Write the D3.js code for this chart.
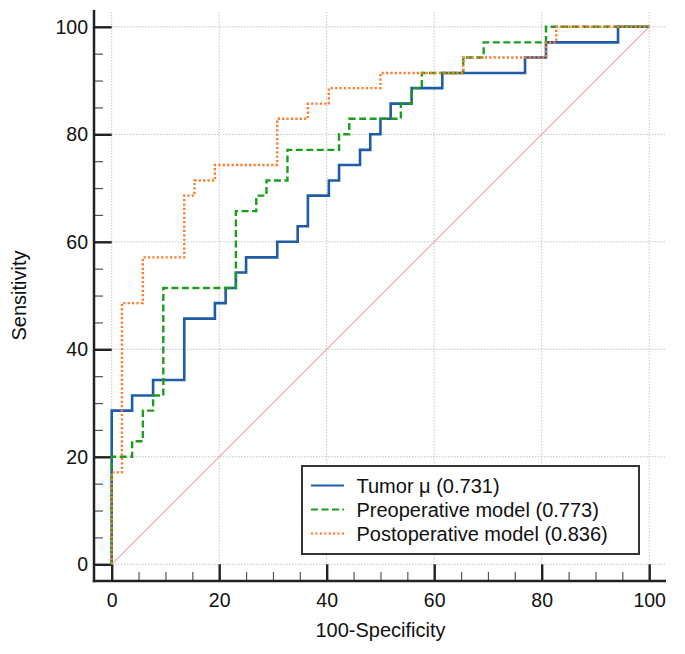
<!DOCTYPE html>
<html>
<head>
<meta charset="utf-8">
<script src="https://cdn.jsdelivr.net/npm/d3@7"></script>
<style>
  html, body { margin: 0; padding: 0; background: #fff; }
  svg { display: block; font-family: Arial, "Liberation Sans", sans-serif; }
</style>
</head>
<body>
<svg id="chart" width="685" height="654"></svg>
<script>
// ---- data (100-Specificity %, Sensitivity %) ROC step vertices ----
const tumorX = [0, 0, 3.8, 7.7, 13.5, 19.2, 21.2, 23.1, 25.0, 30.8, 34.6, 36.5, 40.4, 42.3, 46.2, 48.1, 50.0, 51.9, 55.8, 61.5, 76.9, 80.8, 94.2, 100];
const tumorY = [0, 28.6, 31.4, 34.3, 45.7, 48.6, 51.4, 54.3, 57.1, 60.0, 62.9, 68.6, 71.4, 74.3, 77.1, 80.0, 82.9, 85.7, 88.6, 91.4, 94.3, 97.1, 100, 100];

const preopX = [0, 0, 3.8, 5.8, 7.7, 9.6, 23.1, 26.9, 28.8, 32.7, 42.3, 44.2, 53.8, 55.8, 57.7, 65.4, 69.2, 80.8, 100];
const preopY = [0, 20.0, 22.9, 28.6, 31.4, 51.4, 65.7, 68.6, 71.4, 77.1, 80.0, 82.9, 85.7, 88.6, 91.4, 94.3, 97.1, 100, 100];

const postopX = [0, 0, 1.9, 5.8, 13.5, 15.4, 19.2, 30.8, 36.5, 40.4, 50.0, 65.4, 80.8, 82.7, 100];
const postopY = [0, 17.1, 48.6, 57.1, 68.6, 71.4, 74.3, 82.9, 85.7, 88.6, 91.4, 94.3, 97.1, 100, 100];

const seriesNames = ["Tumor \u03bc (0.731)", "Preoperative model (0.773)", "Postoperative model (0.836)"];
const majorTicks = [0, 20, 40, 60, 80, 100];
const minorTicks = [5, 10, 15, 25, 30, 35, 45, 50, 55, 65, 70, 75, 85, 90, 95];
const xTitle = "100-Specificity";
const yTitle = "Sensitivity";

// ---- layout ----
const svg = d3.select("#chart");
const x = d3.scaleLinear().domain([0, 100]).range([111.7, 649.2]);
const y = d3.scaleLinear().domain([0, 100]).range([564.3, 26.8]);
const axisX = 94, axisY = 581, frameTop = 10, frameRight = 666;

const styles = [
  { color: "#1f5ca8", dash: null, width: 2.6 },
  { color: "#1c9e1c", dash: "7,3.5", width: 2.4 },
  { color: "#ff7a2a", dash: "2.2,2.2", width: 2.4 }
];

// grid
const grid = svg.append("g").attr("stroke", "#c4c4c4").attr("stroke-width", 1).attr("stroke-dasharray", "1.5,1.5");
grid.selectAll(".gv").data(majorTicks).join("line")
  .attr("x1", d => x(d)).attr("x2", d => x(d)).attr("y1", frameTop + 2).attr("y2", axisY);
grid.selectAll(".gh").data(majorTicks).join("line")
  .attr("x1", axisX).attr("x2", frameRight - 1).attr("y1", d => y(d)).attr("y2", d => y(d));

// axes with inward ticks
const fontSize = 19.5;
const yAxis = svg.append("g").attr("transform", `translate(${axisX},0)`)
  .call(d3.axisLeft(y).tickValues(majorTicks).tickSize(-(x(0) - axisX)).tickPadding(6).tickFormat(d3.format("d")));
const yMinor = svg.append("g").attr("transform", `translate(${axisX},0)`)
  .call(d3.axisLeft(y).tickValues(minorTicks).tickSize(-9).tickFormat(""));
const xAxis = svg.append("g").attr("transform", `translate(0,${axisY})`)
  .call(d3.axisBottom(x).tickValues(majorTicks).tickSize(-(axisY - y(0))).tickPadding(12.5).tickFormat(d3.format("d")));
const xMinor = svg.append("g").attr("transform", `translate(0,${axisY})`)
  .call(d3.axisBottom(x).tickValues(minorTicks).tickSize(-9).tickFormat(""));

[yAxis, yMinor, xAxis, xMinor].forEach(g => g.select(".domain").remove());
[yAxis, xAxis].forEach(g => {
  g.selectAll(".tick line").attr("stroke", "#222").attr("stroke-width", 2.4);
  g.selectAll(".tick text").attr("fill", "#111").style("font-size", fontSize + "px").style("font-family", "Arial, 'Liberation Sans', sans-serif");
});
[yMinor, xMinor].forEach(g => g.selectAll(".tick line").attr("stroke", "#555").attr("stroke-width", 1.2));

svg.append("line").attr("x1", axisX).attr("x2", axisX).attr("y1", frameTop).attr("y2", axisY + 1.2)
  .attr("stroke", "#222").attr("stroke-width", 2.5);
svg.append("line").attr("x1", axisX - 1.2).attr("x2", frameRight).attr("y1", axisY).attr("y2", axisY)
  .attr("stroke", "#222").attr("stroke-width", 2.5);

// axis titles
svg.append("text").attr("x", x(50)).attr("y", 637).attr("text-anchor", "middle")
  .style("font-size", "20px").attr("fill", "#111").text(xTitle);
svg.append("text").attr("transform", `translate(26,${(y(0) + y(100)) / 2}) rotate(-90)`).attr("text-anchor", "middle")
  .style("font-size", "20px").attr("fill", "#111").text(yTitle);

// diagonal reference
svg.append("line").attr("x1", x(0)).attr("y1", y(0)).attr("x2", x(100)).attr("y2", y(100))
  .attr("stroke", "#e3a5a5").attr("stroke-width", 1.1);

// curves
const series = [
  tumorX.map((v, i) => [v, tumorY[i]]),
  preopX.map((v, i) => [v, preopY[i]]),
  postopX.map((v, i) => [v, postopY[i]])
];
const line = d3.line().x(d => x(d[0])).y(d => y(d[1])).curve(d3.curveStepAfter);
series.forEach((pts, i) => {
  svg.append("path").attr("d", line(pts)).attr("fill", "none")
    .attr("stroke", styles[i].color).attr("stroke-width", styles[i].width)
    .attr("stroke-dasharray", styles[i].dash).attr("stroke-linejoin", "miter");
});

// legend
const lg = svg.append("g");
lg.append("rect").attr("x", 302).attr("y", 466).attr("width", 337).attr("height", 88)
  .attr("fill", "#fff").attr("stroke", "#333").attr("stroke-width", 2);
seriesNames.forEach((name, i) => {
  const yy = 485.5 + i * 24;
  lg.append("line").attr("x1", 311).attr("x2", 344).attr("y1", yy).attr("y2", yy)
    .attr("stroke", styles[i].color).attr("stroke-width", 2).attr("stroke-dasharray", styles[i].dash);
  lg.append("text").attr("x", 356.5).attr("y", yy).attr("dy", "0.35em")
    .style("font-size", "20px").attr("fill", "#111").text(name);
});
</script>
</body>
</html>
